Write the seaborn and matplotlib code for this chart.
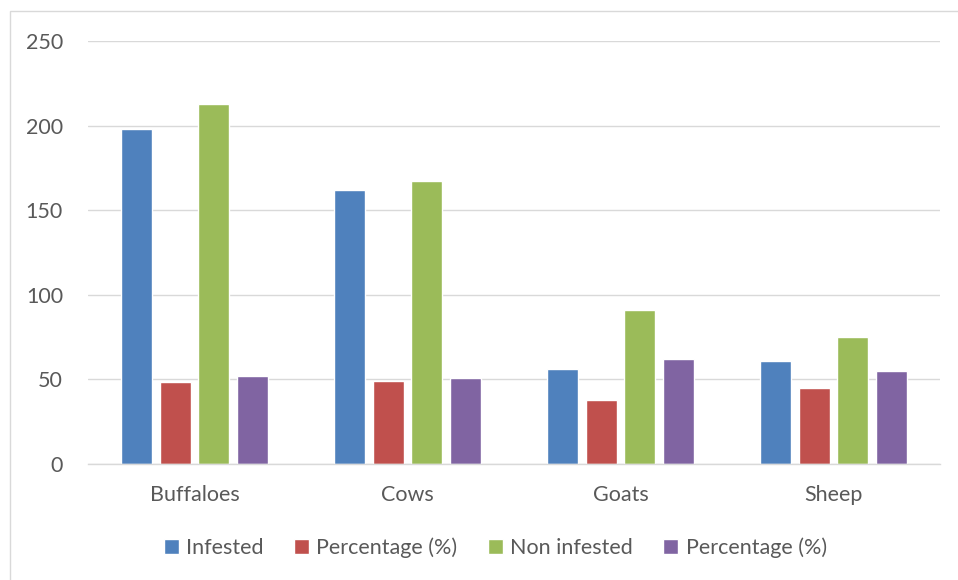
import pandas as pd
import seaborn as sns
import matplotlib.pyplot as plt
from matplotlib.patches import Rectangle

# values
animals = ["Buffaloes", "Cows", "Goats", "Sheep"]
infested = [198, 162, 56, 61]
pct_infested = [48.2, 49.2, 38.1, 44.9]
non_infested = [213, 167, 91, 75]
pct_non_infested = [51.8, 50.8, 61.9, 55.1]

series_keys = ["inf", "pinf", "non", "pnon"]
series_labels = ["Infested", "Percentage (%)", "Non infested", "Percentage (%)"]
colors = ["#4F81BD", "#C0504D", "#9BBB59", "#8064A2"]

df = pd.DataFrame({
    "animal": animals * 4,
    "series": [k for k in series_keys for _ in animals],
    "value": infested + pct_infested + non_infested + pct_non_infested,
})

sns.set_style("white")
plt.rcParams["font.family"] = ["Lato", "DejaVu Sans"]

fig = plt.figure(figsize=(9.58, 5.8), dpi=100)
ax = fig.add_axes([88 / 958, 1 - 464 / 580, (940 - 88) / 958, (464 - 41) / 580])

sns.barplot(data=df, x="animal", y="value", hue="series", hue_order=series_keys,
            palette=colors, width=0.727, gap=0.2, saturation=1, ax=ax,
            errorbar=None, legend=True)

ax.set_ylim(0, 250)
ax.set_yticks(range(0, 251, 50))
ax.set_xlim(-0.5, 3.5)
ax.yaxis.grid(True, color="#D9D9D9", linewidth=1)
ax.set_axisbelow(True)
for s in ["left", "right", "top"]:
    ax.spines[s].set_visible(False)
ax.spines["bottom"].set_color("#D9D9D9")
ax.spines["bottom"].set_linewidth(1)
ax.tick_params(axis="both", length=0, labelsize=15.5, colors="#595959")
ax.tick_params(axis="y", pad=18)
ax.tick_params(axis="x", pad=15)
ax.set_xlabel("")
ax.set_ylabel("")

handles, _ = ax.get_legend_handles_labels()
ax.legend(handles, series_labels, loc="center", bbox_to_anchor=(0.517, 1 - 548 / 580),
          bbox_transform=fig.transFigure, ncol=4, frameon=False, fontsize=15.5,
          handlelength=0.7, handleheight=0.7, handletextpad=0.35, columnspacing=1.4,
          labelcolor="#595959")

# chart border
fig.patches.append(Rectangle((10 / 958, -0.01), 1.0, 1 - 11 / 580 + 0.01,
                             transform=fig.transFigure, fill=False,
                             edgecolor="#D9D9D9", linewidth=1))

fig.savefig("out.png", dpi=100)
